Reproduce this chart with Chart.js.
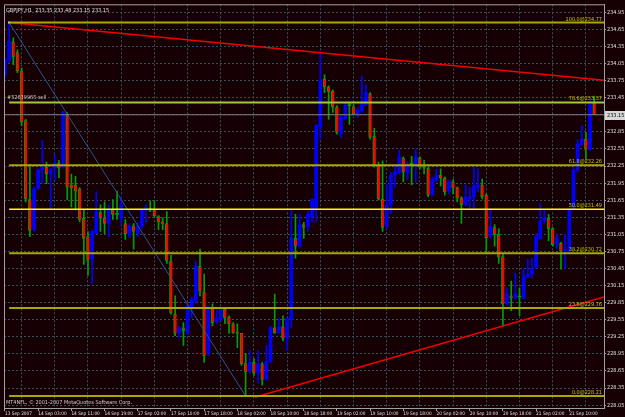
<!DOCTYPE html>
<html>
<head>
<meta charset="utf-8">
<script src="https://cdn.jsdelivr.net/npm/chart.js@4.4.1/dist/chart.umd.min.js"></script>
<style>
  html, body { margin: 0; padding: 0; background: #170004; }
  #wrap { width: 625px; height: 417px; }
</style>
</head>
<body>
<div id="wrap"><canvas id="chart" width="625" height="417"></canvas></div>
<script>
// GBPJPY H1 bars, 13-21 Sep 2007
const opens = [
  233.85, 234.10, 234.43, 234.24, 233.92, 233.05, 231.66, 231.13, 231.87, 232.18,
  232.23, 232.11, 232.21, 232.30, 232.23, 233.15, 231.92, 231.92, 231.85, 231.33,
  231.01, 230.61, 231.06, 231.43, 231.34, 231.24, 231.48, 231.40, 231.33, 231.24,
  231.05, 231.20, 231.06, 231.19, 231.48, 231.48, 231.48, 231.36, 231.27, 231.24,
  230.58, 229.65, 229.31, 229.41, 229.32, 229.76, 229.88, 230.49, 230.04, 228.96,
  229.77, 229.51, 229.55, 229.74, 229.60, 229.48, 229.32, 229.31, 228.78, 228.66,
  228.80, 228.61, 228.77, 228.50, 228.82, 229.41, 229.32, 229.43, 229.22, 229.55,
  230.98, 230.84, 231.22, 231.19, 231.36, 231.50, 232.93, 233.78, 233.64, 233.56,
  233.28, 232.82, 233.08, 233.31, 233.29, 233.15, 233.22, 233.33, 233.52, 232.77,
  232.27, 231.67, 231.19, 231.57, 232.09, 232.13, 232.39, 232.13, 232.28, 232.27,
  232.39, 232.23, 232.21, 231.74, 232.01, 232.09, 232.04, 231.80, 231.97, 231.87,
  231.69, 231.57, 231.67, 231.71, 231.88, 231.92, 231.74, 231.03, 231.17, 231.05,
  230.66, 229.83, 229.97, 229.93, 229.95, 229.93, 230.32, 230.35, 230.47, 230.98,
  231.29, 231.33, 231.15, 230.87, 230.89, 230.75, 230.75, 231.50, 232.18, 232.63,
  232.72, 232.54, 233.35
];
const highs = [
  234.15, 234.77, 234.50, 234.29, 233.97, 233.07, 232.28, 231.88, 232.20, 232.70,
  232.32, 232.21, 232.46, 232.35, 233.21, 233.19, 232.11, 232.07, 231.87, 231.48,
  231.10, 231.13, 231.80, 231.57, 231.62, 231.57, 231.66, 231.81, 231.71, 231.31,
  231.24, 231.24, 231.27, 231.50, 231.57, 231.64, 231.64, 231.38, 231.34, 231.45,
  230.68, 229.97, 229.44, 229.50, 229.83, 229.95, 230.58, 230.79, 230.35, 229.79,
  229.83, 229.76, 229.77, 229.76, 229.62, 229.50, 229.48, 229.31, 228.96, 229.01,
  228.87, 229.01, 228.80, 229.10, 229.44, 230.00, 229.57, 229.62, 229.58, 231.50,
  231.40, 231.41, 231.26, 231.45, 231.67, 232.98, 234.24, 233.85, 233.66, 233.59,
  233.31, 233.14, 233.36, 233.36, 233.33, 233.28, 233.83, 233.68, 233.54, 232.91,
  232.32, 232.34, 231.92, 232.14, 232.27, 232.53, 232.41, 232.32, 232.42, 232.55,
  232.41, 232.35, 232.23, 232.06, 232.20, 232.20, 232.06, 231.99, 232.01, 231.88,
  231.71, 231.92, 231.87, 232.23, 232.20, 232.02, 231.76, 231.50, 231.22, 231.15,
  230.70, 230.11, 230.23, 230.37, 230.11, 230.45, 230.61, 230.63, 231.06, 231.59,
  231.48, 231.40, 231.17, 231.06, 230.91, 231.05, 231.50, 232.23, 232.70, 232.96,
  232.84, 233.40, 233.48
];
const lows = [
  233.80, 234.06, 234.03, 233.89, 232.96, 231.62, 231.01, 231.10, 231.83, 231.94,
  231.94, 231.50, 232.01, 232.04, 232.21, 231.66, 231.53, 231.48, 231.27, 230.52,
  230.33, 230.18, 231.06, 231.10, 231.06, 231.01, 231.31, 231.31, 231.22, 230.96,
  230.99, 230.79, 231.01, 231.15, 231.26, 231.45, 231.36, 231.13, 231.13, 230.54,
  229.65, 229.27, 229.24, 229.10, 229.29, 229.58, 229.84, 229.97, 228.80, 228.92,
  229.44, 229.48, 229.53, 229.48, 229.31, 229.31, 229.06, 228.75, 228.21, 228.61,
  228.57, 228.43, 228.40, 228.49, 228.80, 229.31, 229.31, 229.18, 229.01, 229.41,
  230.63, 230.82, 230.98, 231.10, 231.27, 231.27, 232.72, 233.54, 233.07, 233.19,
  232.81, 232.75, 233.07, 232.98, 233.15, 233.10, 233.19, 233.31, 232.72, 232.23,
  231.66, 231.10, 231.15, 231.41, 231.88, 232.11, 231.97, 232.02, 231.92, 231.97,
  232.20, 232.11, 231.71, 231.74, 231.97, 231.90, 231.74, 231.76, 231.76, 231.62,
  231.24, 231.55, 231.48, 231.48, 231.80, 231.67, 230.72, 230.98, 230.84, 230.54,
  229.44, 229.81, 229.71, 229.91, 229.62, 229.91, 230.28, 230.28, 230.45, 230.96,
  231.24, 230.94, 230.84, 230.80, 230.44, 230.45, 230.72, 231.48, 232.14, 232.61,
  232.37, 232.53, 233.15
];
const closes = [
  234.10, 234.44, 234.17, 233.92, 233.03, 231.67, 231.12, 231.85, 232.18, 232.23,
  232.11, 232.18, 232.30, 232.21, 233.19, 231.88, 231.87, 231.81, 231.31, 230.98,
  230.59, 231.10, 231.45, 231.34, 231.24, 231.48, 231.40, 231.40, 231.57, 231.06,
  231.19, 231.10, 231.20, 231.47, 231.52, 231.48, 231.38, 231.27, 231.24, 230.59,
  229.67, 229.31, 229.41, 229.36, 229.79, 229.91, 230.49, 230.05, 228.92, 229.76,
  229.50, 229.58, 229.76, 229.58, 229.48, 229.32, 229.31, 228.78, 228.63, 228.80,
  228.61, 228.78, 228.50, 228.82, 229.41, 229.32, 229.43, 229.22, 229.58, 230.98,
  230.84, 231.22, 231.17, 231.40, 231.66, 232.96, 233.75, 233.64, 233.56, 233.29,
  232.84, 233.10, 233.31, 233.31, 233.17, 233.24, 233.36, 233.54, 232.75, 232.25,
  231.67, 231.17, 231.57, 232.09, 232.14, 232.41, 232.14, 232.28, 232.28, 232.41,
  232.23, 232.23, 231.74, 232.02, 232.09, 232.04, 231.80, 231.99, 231.87, 231.69,
  231.57, 231.71, 231.71, 231.90, 231.92, 231.71, 230.99, 231.19, 231.05, 230.65,
  229.83, 230.00, 229.93, 230.00, 229.95, 230.32, 230.35, 230.45, 231.01, 231.29,
  231.33, 231.15, 230.87, 230.99, 230.75, 230.79, 231.50, 232.18, 232.63, 232.72,
  232.54, 233.33, 233.15
];

// one label every 8 bars
const timeLabels = [
  "13 Sep 2007", "14 Sep 03:00", "14 Sep 11:00", "14 Sep 19:00", "17 Sep 02:00",
  "17 Sep 10:00", "17 Sep 18:00", "18 Sep 02:00", "18 Sep 10:00", "18 Sep 18:00",
  "19 Sep 02:00", "19 Sep 10:00", "19 Sep 18:00", "20 Sep 02:00", "20 Sep 10:00",
  "20 Sep 18:00", "21 Sep 02:00", "21 Sep 10:00"
];
const priceTicks = [
  228.05, 228.35, 228.65, 228.95, 229.25, 229.55, 229.85, 230.15, 230.45, 230.75,
  231.05, 231.35, 231.65, 231.95, 232.25, 232.55, 232.85, 233.15, 233.45, 233.75,
  234.05, 234.35, 234.65, 234.95
];

// fibonacci from bar 1 high to bar 58 low
const fibAnchors = [[1, 234.77], [58, 228.21]];
const fibLevels = [0, 23.6, 38.2, 50, 61.8, 78.6, 100];
const upperTrend = [[1, 234.77], [76, 234.24]];
const lowerTrend = [[60.2, 228.19], [144.36, 229.95]];
const bidPrice = 233.15;
const header = "GBPJPY,H1  233.35 233.48 233.15 233.15";

const X_MIN = -0.24, X_MAX = 144.36;
const FAMILY = '"Liberation Sans Narrow", "DejaVu Sans Condensed", "Liberation Sans", sans-serif';
// small MT4 text; the time labels must leave a gap inside 8 bars
const probe = document.createElement('canvas').getContext('2d');
probe.font = '20px ' + FAMILY;
const labelW = probe.measureText('14 Sep 03:00').width;
const FSIZE = Math.max(5.5, Math.min(6.5, 31 * 20 / labelW));
const XSIZE = Math.min(6.5, 28.5 * 20 / labelW);
const FONT = FSIZE + 'px ' + FAMILY;
const gridColor = '#34505e';
const axisColor = '#a0a0a0';
const bullColor = '#0000ff', bearColor = '#ff0000', barColor = '#00a000';

const fibHigh = fibAnchors[0][1], fibLow = fibAnchors[1][1];
const fibPrice = l => fibLow + (fibHigh - fibLow) * l / 100;
const fibColor = l => l === 50 ? '#ffff00' : (l === 78.6 ? '#a4c838' : '#a8a800');

const idx = opens.map((_, i) => i);
const isDoji = i => Math.abs(opens[i] - closes[i]) < 0.005;
const isBull = i => closes[i] > opens[i] && !isDoji(i);

const extend = (pts) => {
  const [[x0, y0], [x1, y1]] = pts;
  const k = (y1 - y0) / (x1 - x0);
  return [{ x: x0, y: y0 }, { x: X_MAX, y: y0 + k * (X_MAX - x0) }];
};

const datasets = [];
fibLevels.forEach(l => {
  datasets.push({
    type: 'line', order: 0,
    data: [{ x: fibAnchors[0][0], y: fibPrice(l) }, { x: X_MAX, y: fibPrice(l) }],
    borderColor: fibColor(l), borderWidth: l === 50 ? 1.5 : 2,
    pointRadius: 0
  });
});
datasets.push({
  type: 'line', order: 0,
  data: [{ x: X_MIN, y: bidPrice }, { x: X_MAX, y: bidPrice }],
  borderColor: '#808080', borderWidth: 1, pointRadius: 0
});
datasets.push({
  type: 'line', order: 0,
  data: fibAnchors.map(p => ({ x: p[0], y: p[1] })),
  borderColor: '#26568c', borderWidth: 1,
  pointRadius: 1.5, pointStyle: 'rect',
  pointBackgroundColor: '#d8e8e8', pointBorderWidth: 0
});
datasets.push({
  type: 'line', order: 0, data: extend(upperTrend),
  borderColor: '#f00000', borderWidth: 1.5, pointRadius: 0
});
datasets.push({
  type: 'line', order: 0, data: extend(lowerTrend),
  borderColor: '#f00000', borderWidth: 1.5, pointRadius: 0
});
// candle bodies
datasets.push({
  type: 'bar', order: 1, grouped: false,
  data: idx.map(i => ({ x: i, y: [opens[i], closes[i]] })),
  barThickness: 3, minBarLength: 1, borderSkipped: false,
  backgroundColor: idx.map(i => isDoji(i) ? barColor : (isBull(i) ? bullColor : bearColor)),
  borderColor: idx.map(i => isBull(i) ? bullColor : barColor),
  borderWidth: idx.map(i => isBull(i) || isDoji(i) ? 0 : { left: 1, top: 1, bottom: 1, right: 0 })
});
// wicks
datasets.push({
  type: 'bar', order: 2, grouped: false,
  data: idx.map(i => ({ x: i, y: [lows[i], highs[i]] })),
  barThickness: 1,
  backgroundColor: idx.map(i => isBull(i) ? bullColor : barColor)
});

const overlay = {
  id: 'overlay',
  afterDatasetsDraw(chart) {
    const { ctx, chartArea: a, scales: { y } } = chart;
    ctx.save();
    ctx.strokeStyle = axisColor;
    ctx.lineWidth = 1;
    ctx.beginPath();
    ctx.moveTo(a.left + 0.5, a.bottom);
    ctx.lineTo(a.left + 0.5, a.top + 0.5);
    ctx.lineTo(a.right, a.top + 0.5);
    ctx.stroke();

    ctx.font = FONT;
    ctx.textBaseline = 'alphabetic';
    ctx.textAlign = 'right';
    ctx.fillStyle = '#c8c800';
    fibLevels.forEach(l => {
      const p = fibPrice(l);
      ctx.fillText(l.toFixed(1) + '@' + p.toFixed(2), a.right - 2, y.getPixelForValue(p) - 2);
    });

    ctx.textAlign = 'left';
    ctx.fillStyle = '#e0e0e0';
    ctx.fillText(header, a.left + 2, a.top + 8);
    ctx.fillStyle = '#c8c8c8';
    ctx.fillText('#52639965 sell', a.left + 3, y.getPixelForValue(fibPrice(78.6)) - 3);
    ctx.fillText('MT4NFL, \u00a9 2001-2007 MetaQuotes Software Corp.', a.left + 2, a.bottom - 4);

    // bid price box on the axis
    const by = Math.round(y.getPixelForValue(bidPrice));
    ctx.fillStyle = '#d8d8d8';
    ctx.fillRect(a.right + 1, by - 4, 20, 9);
    ctx.fillStyle = '#000000';
    ctx.textBaseline = 'middle';
    ctx.fillText(bidPrice.toFixed(2), a.right + 3, by + 0.5);
    ctx.restore();
  }
};

new Chart(document.getElementById('chart'), {
  type: 'bar',
  data: { datasets },
  plugins: [overlay],
  options: {
    responsive: false,
    animation: false,
    devicePixelRatio: 1,
    layout: { padding: { left: 1, top: 1, right: 0, bottom: 0 } },
    plugins: { legend: { display: false }, tooltip: { enabled: false } },
    scales: {
      x: {
        type: 'linear', min: X_MIN, max: X_MAX, offset: false,
        afterBuildTicks: s => {
          s.ticks = [];
          for (let v = 0; v <= 140; v += 4) s.ticks.push({ value: v });
        },
        afterFit: s => { s.height = 9; },
        grid: {
          offset: false,
          color: c => (c.tick && c.tick.value % 8 === 4) ? gridColor : 'rgba(0,0,0,0)',
          tickColor: c => (c.tick && c.tick.value % 8 === 0) ? axisColor : 'rgba(0,0,0,0)',
          tickLength: 3
        },
        border: { color: axisColor, dash: [2, 2] },
        ticks: {
          autoSkip: false, maxRotation: 0, minRotation: 0, align: 'start', padding: 0,
          color: '#e0e0e0', font: { family: FAMILY, size: XSIZE },
          callback: v => v % 8 === 0 ? timeLabels[v / 8] : ''
        }
      },
      y: {
        position: 'right', min: 228.0, max: 235.09,
        afterBuildTicks: s => { s.ticks = priceTicks.map(v => ({ value: v })); },
        afterFit: s => { s.width = 21; },
        grid: { color: gridColor, tickColor: axisColor, tickLength: 2 },
        border: { color: axisColor, dash: [2, 2] },
        ticks: {
          padding: 1, color: '#e0e0e0',
          font: { family: FAMILY, size: FSIZE },
          callback: v => v.toFixed(2)
        }
      }
    }
  }
});
</script>
</body>
</html>
